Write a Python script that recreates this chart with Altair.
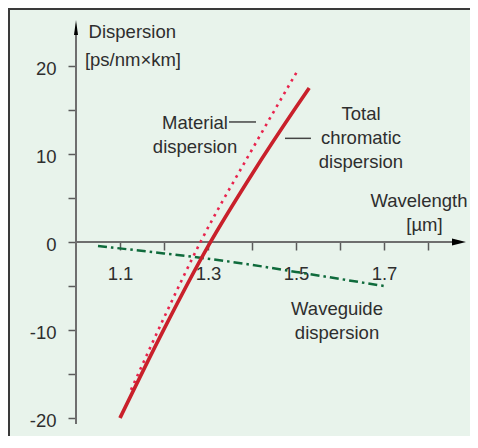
import json
import altair as alt
import pandas as pd

# ---------------- data ----------------
total_x = [1.10, 1.20, 1.30, 1.40, 1.50, 1.53]
total_y = [-20.0, -9.9, -0.5, 7.7, 15.3, 17.5]

material_x = [1.125, 1.20, 1.283, 1.40, 1.505]
material_y = [-16.8, -8.6, 0.0, 10.5, 19.6]

waveguide_x = [1.05, 1.20, 1.30, 1.40, 1.50, 1.60, 1.70]
waveguide_y = [-0.45, -1.3, -1.9, -2.6, -3.4, -4.2, -5.0]

x_ticks = [1.1, 1.2, 1.3, 1.4, 1.5, 1.6, 1.7, 1.8]
x_tick_labels = ["1.1", "1.3", "1.5", "1.7"]
y_ticks = [-20, -15, -10, -5, 0, 5, 10, 15, 20]
y_tick_labels = ["-20", "-10", "0", "10", "20"]

# annotation texts (data coordinates)
left_text = ["Dispersion", "[ps/nm×km]"]
left_x = [1.0286, 1.0202]
left_y = [23.15, 20.03]

center_text = ["Material", "dispersion", "Total", "chromatic", "dispersion",
               "Wavelength", "[µm]", "Waveguide", "dispersion"]
center_x = [1.2705, 1.2705, 1.6477, 1.6477, 1.6477, 1.7795, 1.7920, 1.5932, 1.5932]
center_y = [12.84, 10.11, 13.83, 11.10, 8.38, 3.94, 1.22, -8.30, -11.02]

leader_x = [1.3477, 1.475]
leader_x2 = [1.4091, 1.534]
leader_y = [13.64, 11.78]

# axis lines / arrows (data coordinates)
axis_origin_x = 1.0
y_axis_from, y_axis_to = -20.68, 23.52
x_axis_to = 1.855
y_arrow_at = 24.375
x_arrow_at = 1.8705

# ---------------- layout ----------------
W, H = 462, 428
X0_PX, Y0_PX = 68, 234          # pixel position (inside view) of x=1.0, y=0
PX_PER_X, PX_PER_Y = 440.0, 8.8
x_domain = [1.0 - X0_PX / PX_PER_X, 1.0 + (W - X0_PX) / PX_PER_X]
y_domain = [-(H - Y0_PX) / PX_PER_Y, Y0_PX / PX_PER_Y]

FONT = "Liberation Sans, Arial, Helvetica, sans-serif"
FS = 18.5
TXT = "#2e2e2e"
BG = "#e8f3eb"

xs = alt.Scale(domain=x_domain, nice=False, zero=False)
ys = alt.Scale(domain=y_domain, nice=False, zero=False)

x_label_expr = ("indexof(" + json.dumps(x_tick_labels) +
                ", format(datum.value, '.1f')) >= 0 ? format(datum.value, '.1f') : ''")
y_label_expr = ("indexof(" + json.dumps(y_tick_labels) +
                ", toString(datum.value)) >= 0 ? toString(datum.value) : ''")

xa = alt.Axis(values=x_ticks, orient="bottom", offset=-(H - Y0_PX),
              labelExpr=x_label_expr,
              domain=False, grid=False, tickSize=8, tickWidth=1.5, tickColor="#5a5a5a",
              labelFont=FONT, labelFontSize=FS, labelColor=TXT, labelPadding=14,
              labelFlush=False, labelOverlap=False, title=None)
ya = alt.Axis(values=y_ticks, orient="left", offset=-X0_PX,
              labelExpr=y_label_expr,
              domain=False, grid=False, tickSize=8, tickWidth=1.5, tickColor="#5a5a5a",
              labelFont=FONT, labelFontSize=FS, labelColor=TXT, labelPadding=12,
              labelOffset=2, labelFlush=False, labelOverlap=False, title=None)

X = alt.X("x:Q", scale=xs, axis=xa)
Y = alt.Y("y:Q", scale=ys, axis=ya)

one = pd.DataFrame({"a": [0]})

frame_top = alt.Chart(one).mark_rule(color="#3a3a3a", strokeWidth=2).encode(
    x=alt.value(0), x2=alt.value(W), y=alt.value(1))
frame_left = alt.Chart(one).mark_rule(color="#3a3a3a", strokeWidth=2).encode(
    x=alt.value(1), y=alt.value(0), y2=alt.value(H))

yaxis_line = alt.Chart(pd.DataFrame({"x": [axis_origin_x], "y": [y_axis_from], "y2": [y_axis_to]})
                       ).mark_rule(color="#6e6e6e", strokeWidth=2).encode(x=X, y=Y, y2="y2:Q")
xaxis_line = alt.Chart(pd.DataFrame({"x": [axis_origin_x], "x2": [x_axis_to], "y": [0.0]})
                       ).mark_rule(color="#6e6e6e", strokeWidth=2).encode(x=X, x2="x2:Q", y=Y)

up_arrow = alt.Chart(pd.DataFrame({"x": [axis_origin_x], "y": [y_arrow_at]})).mark_point(
    shape="M0,-1L0.2667,1L-0.2667,1Z", filled=True, size=225, color="black",
    opacity=1, strokeWidth=0).encode(x=X, y=Y)
right_arrow = alt.Chart(pd.DataFrame({"x": [x_arrow_at], "y": [0.0]})).mark_point(
    shape="M1,0L-1,-0.5L-1,0.5Z", filled=True, size=196, color="black",
    opacity=1, strokeWidth=0).encode(x=X, y=Y)

waveguide = alt.Chart(pd.DataFrame({"x": waveguide_x, "y": waveguide_y})).mark_line(
    color="#0f6b3c", strokeWidth=2.5, strokeDash=[9, 4, 2.5, 4], interpolate="monotone"
).encode(x=X, y=Y)
material = alt.Chart(pd.DataFrame({"x": material_x, "y": material_y})).mark_line(
    color="#e8234d", strokeWidth=2.6, strokeDash=[2.6, 4.8], interpolate="monotone"
).encode(x=X, y=Y)
total = alt.Chart(pd.DataFrame({"x": total_x, "y": total_y})).mark_line(
    color="#c9202b", strokeWidth=3.6, interpolate="monotone"
).encode(x=X, y=Y)

leaders = alt.Chart(pd.DataFrame({"x": leader_x, "x2": leader_x2, "y": leader_y})).mark_rule(
    color="#444444", strokeWidth=1.5).encode(x=X, x2="x2:Q", y=Y)

txt_left = alt.Chart(pd.DataFrame({"x": left_x, "y": left_y, "t": left_text})).mark_text(
    align="left", baseline="alphabetic", font=FONT, fontSize=FS, color=TXT
).encode(x=X, y=Y, text="t:N")
txt_center = alt.Chart(pd.DataFrame({"x": center_x, "y": center_y, "t": center_text})).mark_text(
    align="center", baseline="alphabetic", font=FONT, fontSize=FS, color=TXT
).encode(x=X, y=Y, text="t:N")

chart = alt.layer(
    frame_top, frame_left, yaxis_line, xaxis_line, up_arrow, right_arrow,
    waveguide, material, total, leaders, txt_left, txt_center
).properties(
    width=W, height=H, padding=0, background="white",
    autosize=alt.AutoSizeParams(type="none")
).configure_view(fill=BG, stroke="transparent")

chart.save("out.html", embed_options={"renderer": "svg", "actions": False})
